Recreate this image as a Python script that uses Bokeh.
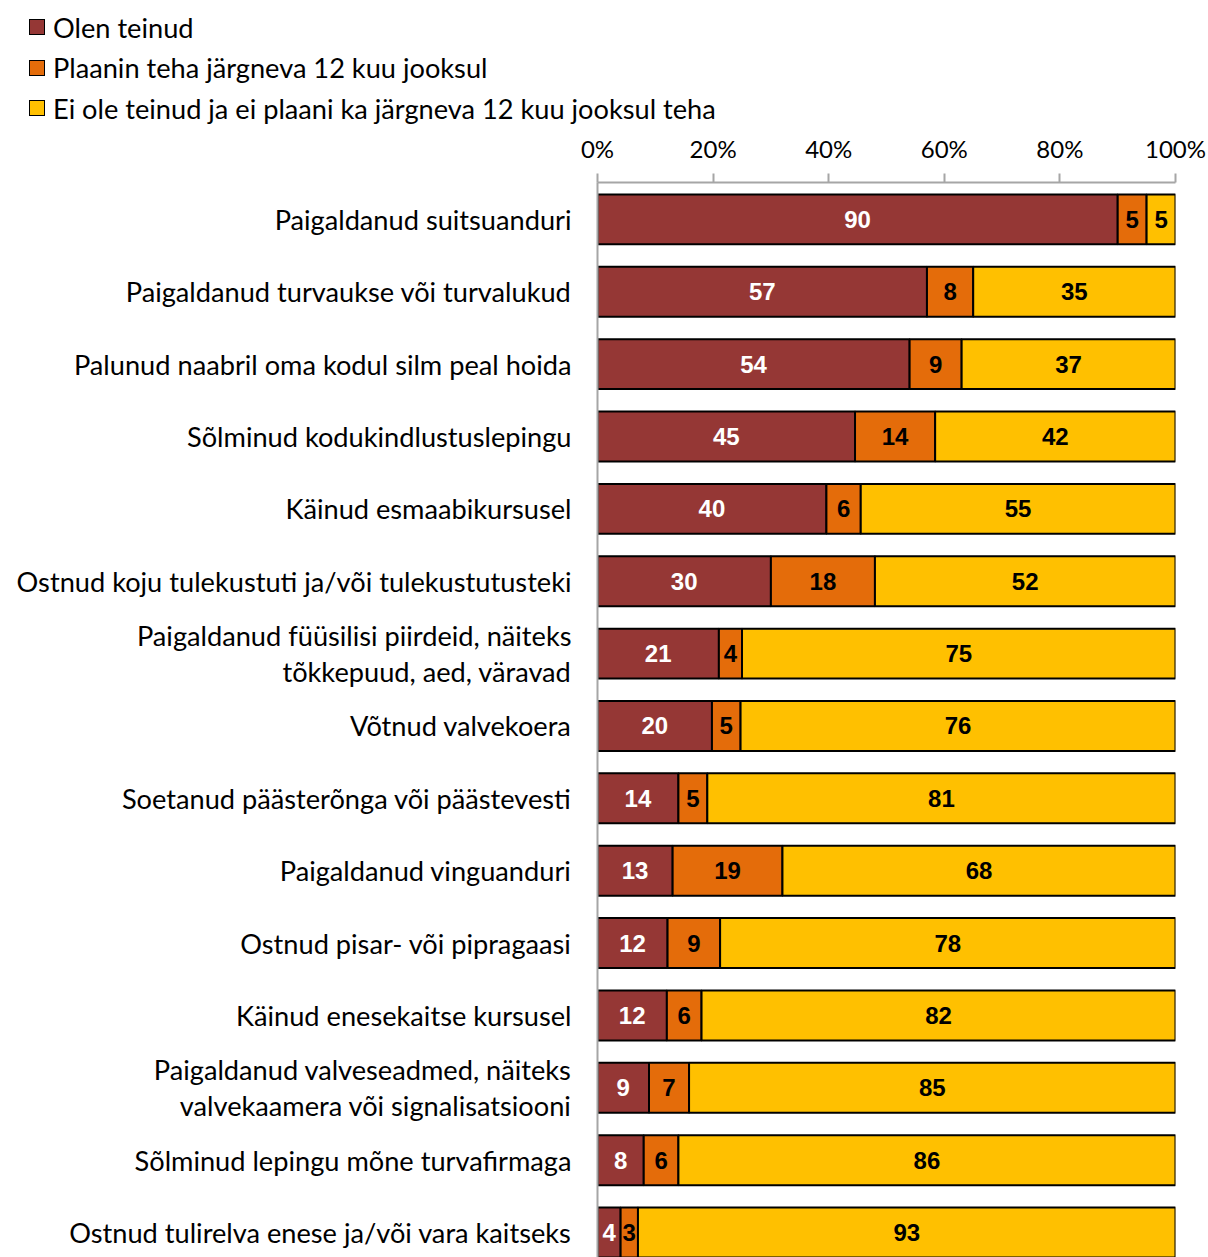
from bokeh.plotting import figure
from bokeh.layouts import column
from bokeh.models import ColumnDataSource, Range1d, FixedTicker, LabelSet, Div
from bokeh.core.properties import value
from bokeh.embed import file_html
from bokeh.resources import INLINE

categories = [
    "Paigaldanud suitsuanduri",
    "Paigaldanud turvaukse või turvalukud",
    "Palunud naabril oma kodul silm peal hoida",
    "Sõlminud kodukindlustuslepingu",
    "Käinud esmaabikursusel",
    "Ostnud koju tulekustuti ja/või tulekustutusteki",
    "Paigaldanud füüsilisi piirdeid, näiteks\ntõkkepuud, aed, väravad",
    "Võtnud valvekoera",
    "Soetanud päästerõnga või päästevesti",
    "Paigaldanud vinguanduri",
    "Ostnud pisar- või pipragaasi",
    "Käinud enesekaitse kursusel",
    "Paigaldanud valveseadmed, näiteks\nvalvekaamera või signalisatsiooni",
    "Sõlminud lepingu mõne turvafirmaga",
    "Ostnud tulirelva enese ja/või vara kaitseks",
]
done = [90, 57, 54, 45, 40, 30, 21, 20, 14, 13, 12, 12, 9, 8, 4]
planned = [5, 8, 9, 14, 6, 18, 4, 5, 5, 19, 9, 6, 7, 6, 3]
not_planned = [5, 35, 37, 42, 55, 52, 75, 76, 81, 68, 78, 82, 85, 86, 93]
series_names = [
    "Olen teinud",
    "Plaanin teha järgneva 12 kuu jooksul",
    "Ei ole teinud ja ei plaani ka järgneva 12 kuu jooksul teha",
]
x_ticks = [0, 20, 40, 60, 80, 100]
x_tick_labels = ["0%", "20%", "40%", "60%", "80%", "100%"]

colors = ["#953735", "#E46C0A", "#FFC000"]
label_colors = ["white", "black", "black"]
FONT = "Lato"
CAT_SIZE = "27.2px"

series = [done, planned, not_planned]
n = len(categories)
ys = list(range(n))
data = {"y": ys}
for k, s in enumerate(series):
    data[f"v{k}"] = [str(v) for v in s]
lefts = [0.0] * n
for k, s in enumerate(series):
    rights = []
    mids = []
    for i in range(n):
        tot = done[i] + planned[i] + not_planned[i]
        w = s[i] / tot * 100
        rights.append(lefts[i] + w)
        mids.append(lefts[i] + w / 2)
    data[f"l{k}"] = lefts
    data[f"r{k}"] = rights
    data[f"m{k}"] = mids
    lefts = rights
src = ColumnDataSource(data)

LEG_H = 130
TOTAL_W = 1208
TOTAL_H = 1257

# ---- legend (HTML) ----
rows_html = ""
for name, col in zip(series_names, colors):
    rows_html += (
        '<div style="display:flex;align-items:center;height:40.5px;white-space:nowrap;">'
        f'<span style="display:inline-block;box-sizing:border-box;width:16px;height:16px;'
        f'background:{col};border:1.6px solid #000;margin-right:8px;"></span>'
        f'<span>{name}</span></div>'
    )
legend_div = Div(
    text=(f'<div style="font-family:Lato,sans-serif;font-size:{CAT_SIZE};color:#000;'
          f'padding:7px 0 0 29px;line-height:1;">{rows_html}</div>'),
    width=TOTAL_W, height=LEG_H, margin=0,
)

# ---- main chart ----
p = figure(
    width=TOTAL_W, height=TOTAL_H - LEG_H,
    x_range=Range1d(0, 100),
    y_range=Range1d(14.345, -0.51),
    x_axis_location="above",
    output_backend="svg", toolbar_location=None,
    min_border_left=597, min_border_right=33, min_border_top=182 - LEG_H, min_border_bottom=0,
)
p.outline_line_color = None
p.xgrid.visible = False
p.ygrid.visible = False

for k in range(3):
    p.hbar(y="y", left=f"l{k}", right=f"r{k}", height=0.69, source=src,
           fill_color=colors[k], line_color="black", line_width=2)
    lab = LabelSet(x=f"m{k}", y="y", text=f"v{k}", source=src,
                   text_align="center", text_baseline="middle",
                   text_color=label_colors[k], text_font=value("Liberation Sans"),
                   text_font_style="bold", text_font_size="24px")
    p.add_layout(lab)

xa = p.xaxis[0]
xa.ticker = FixedTicker(ticks=x_ticks)
xa.major_label_overrides = {t: l for t, l in zip(x_ticks, x_tick_labels)}
xa.axis_line_color = "#A6A6A6"
xa.axis_line_width = 2
xa.major_tick_line_color = "#A6A6A6"
xa.major_tick_line_width = 2
xa.major_tick_out = 9
xa.major_tick_in = 0
xa.minor_tick_out = 0
xa.minor_tick_in = 0
xa.major_label_text_font = FONT
xa.major_label_text_font_size = "24px"
xa.major_label_text_color = "black"
xa.major_label_standoff = 11

ya = p.yaxis[0]
ya.ticker = FixedTicker(ticks=ys)
ya.major_label_overrides = {i: c for i, c in zip(ys, categories)}
ya.axis_line_color = "#A6A6A6"
ya.axis_line_width = 2
ya.major_tick_out = 0
ya.major_tick_in = 0
ya.minor_tick_out = 0
ya.minor_tick_in = 0
ya.major_label_text_font = FONT
ya.major_label_text_font_size = CAT_SIZE
ya.major_label_text_line_height = 1.09
ya.major_label_text_color = "black"
ya.major_label_standoff = 26

layout = column(legend_div, p, spacing=0)
open("out.html", "w").write(file_html(layout, INLINE))
